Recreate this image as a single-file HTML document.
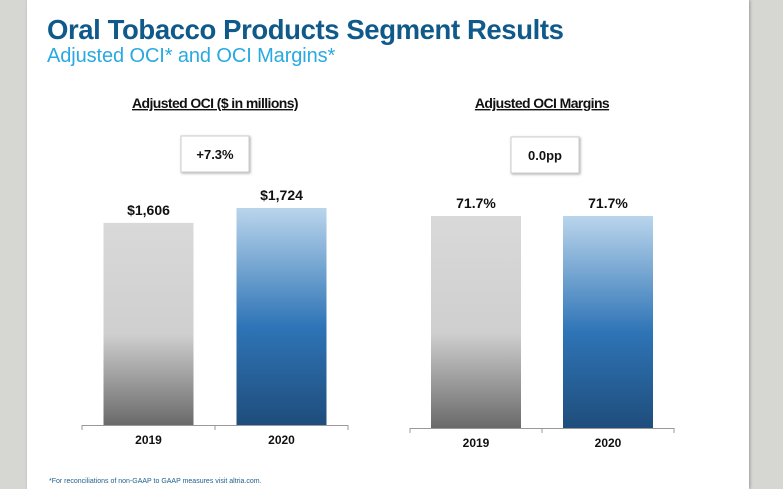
<!DOCTYPE html>
<html><head><meta charset="utf-8"><style>
body{margin:0;width:783px;height:489px;overflow:hidden;background:#d6d6d3;font-family:"Liberation Sans",sans-serif}
#page{position:absolute;left:27px;top:0;width:722px;height:489px;background:#fff;box-shadow:1px 0 3px #999}
.t{position:absolute;white-space:nowrap}
</style></head><body>
<div id="page"></div>
<div class="t" style="left:47px;top:14px;font-size:27.5px;font-weight:bold;color:#0f5a8a;letter-spacing:-0.4px">Oral Tobacco Products Segment Results</div>
<div class="t" style="left:47px;top:45px;font-size:20px;color:#29a9e1;letter-spacing:-0.1px">Adjusted OCI* and OCI Margins*</div>
<div class="t" style="left:49px;top:478px;font-size:7px;color:#1f5f8b">*For reconciliations of non-GAAP to GAAP measures visit altria.com.</div>
<svg id="chart" width="783" height="489" style="position:absolute;left:0;top:0">
<defs>
<linearGradient id="gGray" x1="0" y1="0" x2="0" y2="1"><stop offset="0" stop-color="#d9d9d9"/><stop offset="0.55" stop-color="#cfcfcf"/><stop offset="1" stop-color="#6a6a6a"/></linearGradient>
<linearGradient id="gBlue" x1="0" y1="0" x2="0" y2="1"><stop offset="0" stop-color="#bad5ec"/><stop offset="0.55" stop-color="#2e74b6"/><stop offset="1" stop-color="#1f4d7c"/></linearGradient>
<filter id="sh" x="-20%" y="-20%" width="140%" height="140%"><feDropShadow dx="1" dy="1" stdDeviation="1.2" flood-color="#888" flood-opacity="0.7"/></filter>
</defs>
</svg>
<script>
const categories=["2019","2020"];
const ociValues=[1606,1724];
const ociLabels=["$1,606","$1,724"];
const marginValues=[71.7,71.7];
const marginLabels=["71.7%","71.7%"];
const ociChange="+7.3%";
const marginChange="0.0pp";
const svg=document.getElementById('chart');
const NS='http://www.w3.org/2000/svg';
function mk(tag,attrs,parent){const e=document.createElementNS(NS,tag);for(const k in attrs)e.setAttribute(k,attrs[k]);(parent||svg).appendChild(e);return e;}
function drawChart(cfg){
  const g=mk('g',{});
  
  
  const y=v=>cfg.base-v*cfg.scale;
  const slot=(cfg.x1-cfg.x0)/cfg.values.length;
  const t=mk('text',{x:(cfg.x0+cfg.x1)/2,y:cfg.titleY,'text-anchor':'middle','font-size':14,'font-weight':'bold','text-decoration':'underline',fill:'#111','letter-spacing':'-0.6'},g);
  t.textContent=cfg.title;
  
  
  const b=mk('rect',{x:cfg.boxX,y:cfg.boxY,width:68,height:36,fill:'#fff',stroke:'#ccc','stroke-width':1,filter:'url(#sh)'},g);
  
  
  const bt=mk('text',{x:cfg.boxX+34,y:cfg.boxY+23,'text-anchor':'middle','font-size':13,'font-weight':'bold',fill:'#111'},g);
  bt.textContent=cfg.change;
  
  
  cfg.values.forEach((v,i)=>{
    const cx=cfg.x0+slot*(i+0.5);
    const r=mk('rect',{x:cx-45,y:y(v),width:90,height:cfg.base-y(v),fill:i==0?'url(#gGray)':'url(#gBlue)'},g);
    
    
    const l=mk('text',{x:cx,y:y(v)-8,'text-anchor':'middle','font-size':14,'font-weight':'bold',fill:'#111'},g);
    l.textContent=cfg.labels[i];
    
    
    const c=mk('text',{x:cx,y:cfg.base+19,'text-anchor':'middle','font-size':12,'font-weight':'bold',fill:'#111'},g);
    c.textContent=categories[i];
    
    
  });
  const ax=mk('line',{x1:cfg.x0,x2:cfg.x1,y1:cfg.base+0.5,y2:cfg.base+0.5,stroke:'#999'},g);
  
  
  for(let i=0;i<=cfg.values.length;i++){
    const tx=cfg.x0+slot*i;
    mk('line',{x1:tx,x2:tx,y1:cfg.base,y2:cfg.base+5,stroke:'#999'},g);
  }
}
drawChart({name:'adjusted-oci-chart',title:'Adjusted OCI ($ in millions)',values:ociValues,labels:ociLabels,change:ociChange,x0:82,x1:348,base:425,scale:217/1724,titleY:108,boxX:181,boxY:136});
drawChart({name:'oci-margins-chart',title:'Adjusted OCI Margins',values:marginValues,labels:marginLabels,change:marginChange,x0:410,x1:674,base:428,scale:212/71.7,titleY:108,boxX:511,boxY:137});
</script>
</body></html>
